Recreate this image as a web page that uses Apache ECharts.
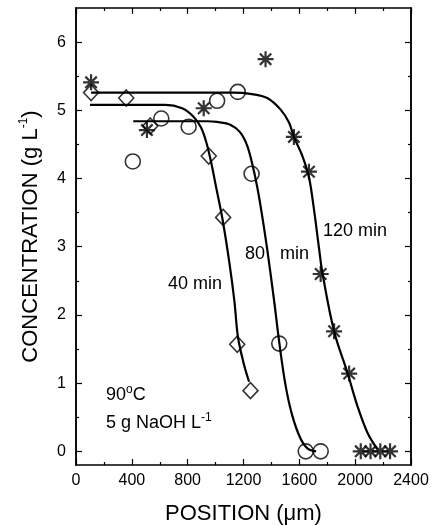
<!DOCTYPE html>
<html>
<head>
<meta charset="utf-8">
<script src="https://cdn.jsdelivr.net/npm/echarts@6/dist/echarts.min.js"></script>
<style>
  html, body { margin: 0; padding: 0; background: #fff; }
  #main { width: 433px; height: 526px; }
</style>
</head>
<body>
<div id="main"></div>
<script>
// measured points, [position um, concentration g/L]
var pts40 = [[108, 5.26], [360, 5.18], [532, 4.77], [951, 4.33], [1054, 3.43], [1155, 1.57], [1250, 0.89]];
var pts80 = [[407, 4.25], [611, 4.88], [807, 4.76], [1011, 5.14], [1159, 5.27], [1258, 4.07], [1456, 1.58], [1646, 0], [1753, 0]];
var pts120 = [[108, 5.41], [508, 4.71], [915, 5.03], [1358, 5.75], [1561, 4.61], [1669, 4.10], [1753, 2.60],
              [1849, 1.76], [1957, 1.14], [2040, 0], [2110, 0], [2180, 0], [2250, 0]];

// fitted curves
var fit40 = [[100, 5.08], [640, 5.08], [760, 5.03], [840, 4.91], [895, 4.75], [935, 4.52], [970, 4.22],
             [1005, 3.86], [1050, 3.40], [1100, 2.75], [1135, 2.20], [1160, 1.68], [1200, 1.30], [1240, 1.02]];
var fit80 = [[410, 4.84], [940, 4.84], [1010, 4.83], [1105, 4.79], [1175, 4.68], [1225, 4.49], [1262, 4.22],
             [1298, 3.88], [1330, 3.50], [1370, 2.96], [1418, 2.23], [1456, 1.60], [1502, 0.96], [1550, 0.52],
             [1610, 0.18], [1660, 0.04], [1720, 0.0]];
var fit120 = [[108, 5.26], [1130, 5.26], [1250, 5.24], [1370, 5.18], [1466, 5.01], [1526, 4.82], [1561, 4.61],
              [1622, 4.33], [1669, 4.02], [1700, 3.62], [1741, 2.98], [1765, 2.62], [1849, 1.76], [1945, 1.15],
              [2017, 0.66], [2089, 0.27], [2160, 0.03]];

var yMajor = [0, 1, 2, 3, 4, 5, 6];
var yMinor = [0.5, 1.5, 2.5, 3.5, 4.5, 5.5];

var font = 'Liberation Sans, Arial, sans-serif';
var starPath = 'path://M0,7L14,7M7,0L7,14M2,2L12,12M12,2L2,12';

var myChart = echarts.init(document.getElementById('main'));

function yAx(pos, ticks, len, labels) {
  return {
    type: 'value', position: pos, min: -0.2, max: 6.5,
    axisLine: { show: true, lineStyle: { color: '#000', width: 1.5 } },
    axisTick: { show: true, inside: true, length: len, customValues: ticks, lineStyle: { color: '#000', width: 1.2 } },
    axisLabel: labels ? { show: true, customValues: ticks, color: '#000', fontSize: 16, fontFamily: font, margin: 10 } : { show: false },
    splitLine: { show: false }
  };
}

var left = yAx('left', yMajor, 6, true);
left.name = 'CONCENTRATION (g L{sup|-1})';
left.nameLocation = 'middle';
left.nameGap = 32;
left.nameTextStyle = {
  color: '#000', fontSize: 22, fontFamily: font,
  rich: { sup: { fontSize: 12, verticalAlign: 'top', padding: [0, 0, 14, 0], fontFamily: font, color: '#000' } }
};

function xAx(pos, labels) {
  return {
    type: 'value', position: pos, min: 0, max: 2400, interval: 400,
    axisLine: { show: true, onZero: false, lineStyle: { color: '#000', width: 1.5 } },
    axisTick: { show: true, inside: true, length: 6, lineStyle: { color: '#000', width: 1.2 } },
    minorTick: { show: true, splitNumber: 2, length: 3, lineStyle: { color: '#000', width: 1.2 } },
    axisLabel: labels ? { show: true, color: '#000', fontSize: 16, fontFamily: font, margin: 8,
                          formatter: function (v) { return String(v); } } : { show: false },
    splitLine: { show: false }
  };
}

var bottom = xAx('bottom', true);
bottom.name = 'POSITION (μm)';
bottom.nameLocation = 'middle';
bottom.nameGap = 38;
bottom.nameTextStyle = { color: '#000', fontSize: 22, fontFamily: font };

var lineStyle = { color: '#000', width: 2.2 };
function fitSeries(d) {
  return { type: 'line', data: d, showSymbol: false, smooth: 0.35,
           lineStyle: lineStyle, silent: true, z: 2 };
}
function ptSeries(d, sym, size, bw) {
  return { type: 'scatter', data: d, symbol: sym, symbolSize: size,
           itemStyle: { color: 'none', borderColor: '#000', borderWidth: bw }, z: 3 };
}

var sup = { fontSize: 12, verticalAlign: 'top', padding: [0, 0, 10, 0], fontFamily: font, fill: '#000' };

myChart.setOption({
  animation: false,
  grid: { left: 76, right: 22, top: 8, bottom: 61, containLabel: false, outerBoundsMode: 'none' },
  xAxis: [bottom, xAx('top', false)],
  yAxis: [left, yAx('left', yMinor, 3, false), yAx('right', yMajor, 6, false), yAx('right', yMinor, 3, false)],
  series: [
    fitSeries(fit40), fitSeries(fit80), fitSeries(fit120),
    ptSeries(pts40, 'diamond', [15, 16], 1.6),
    ptSeries(pts80, 'circle', 15, 1.6),
    ptSeries(pts120, starPath, 16, 2.2)
  ],
  graphic: [
    { type: 'text', left: 168, top: 275, style: { text: '40 min', font: '18px ' + font, fill: '#000' } },
    { type: 'text', left: 245, top: 245, style: { text: '80   min', font: '18px ' + font, fill: '#000' } },
    { type: 'text', left: 323, top: 222, style: { text: '120 min', font: '18px ' + font, fill: '#000' } },
    { type: 'text', left: 106, top: 384, style: { text: '90{sup|o}C', font: '18px ' + font, fill: '#000', rich: { sup: sup } } },
    { type: 'text', left: 106, top: 412, style: { text: '5 g NaOH L{sup|-1}', font: '18px ' + font, fill: '#000', rich: { sup: sup } } }
  ]
});
</script>
</body>
</html>
